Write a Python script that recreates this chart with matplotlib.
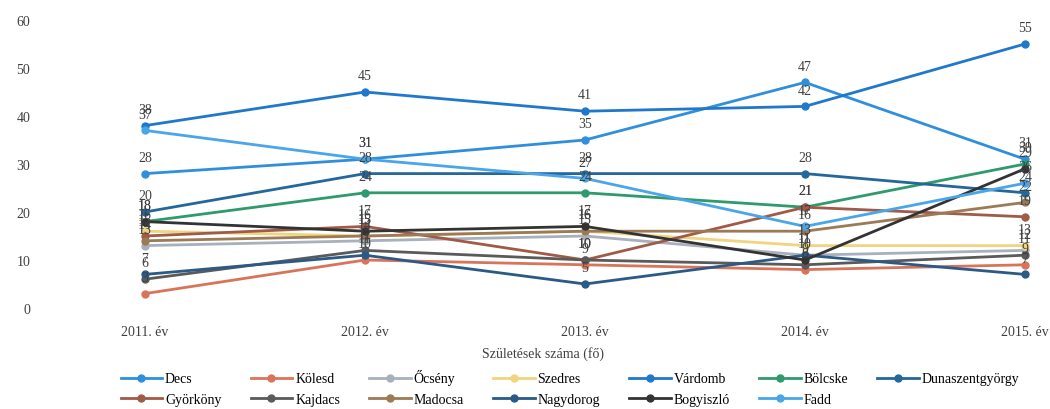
import numpy as np
import matplotlib.pyplot as plt

plt.rcParams['font.family'] = ['Liberation Serif', 'DejaVu Serif']

years = ['2011. év', '2012. év', '2013. év', '2014. év', '2015. év']

decs = [28, 31, 35, 47, 31]
kolesd = [3, 10, 9, 8, 9]
ocseny = [13, 14, 15, 11, 12]
szedres = [16, 15, 16, 13, 13]
vardomb = [38, 45, 41, 42, 55]
bolcske = [18, 24, 24, 21, 30]
dunaszentgyorgy = [20, 28, 28, 28, 24]
gyorkony = [15, 17, 10, 21, 19]
kajdacs = [6, 12, 10, 9, 11]
madocsa = [14, 15, 16, 16, 22]
nagydorog = [7, 11, 5, 11, 7]
bogyiszlo = [18, 16, 17, 10, 29]
fadd = [37, 31, 27, 17, 26]

names = ['Decs', 'Kölesd', 'Őcsény', 'Szedres', 'Várdomb', 'Bölcske', 'Dunaszentgyörgy',
         'Györköny', 'Kajdacs', 'Madocsa', 'Nagydorog', 'Bogyiszló', 'Fadd']
series = [decs, kolesd, ocseny, szedres, vardomb, bolcske, dunaszentgyorgy,
          gyorkony, kajdacs, madocsa, nagydorog, bogyiszlo, fadd]
colors = ['#2f8fdc', '#d9745a', '#a9b0bd', '#f0d480', '#1f78cc', '#2e9a6e', '#24679a',
          '#a05a48', '#5a5a5a', '#9c7a55', '#2b5a86', '#333333', '#4aa6e8']

x = np.arange(len(years))

fig = plt.figure(figsize=(10.5, 4.1), dpi=100)
ax = fig.add_axes([35/1050, 101/410, 1015/1050, 288/410])

for name, vals, c in zip(names, series, colors):
    ax.plot(x, vals, color=c, lw=2, marker='o', ms=5, label=name)
    for xi, v in zip(x, vals):
        ax.annotate(str(v), (xi, v), xytext=(0, 7), textcoords='offset points',
                    ha='center', va='bottom', fontsize=10, color='#404040')

ax.set_xlim(-0.5, 4.114)
ax.set_ylim(0, 60)
ax.set_yticks([0, 10, 20, 30, 40, 50, 60])
ax.set_xticks(x, years)
for s in ax.spines.values():
    s.set_visible(False)
ax.tick_params(length=0, labelsize=10, colors='#404040')
ax.tick_params(axis='x', pad=12)
ax.set_xlabel('Születések száma (fő)', fontsize=10, color='#404040', labelpad=6)

# legend fills by column, so interleave to get two rows in the original order
handles, labels = ax.get_legend_handles_labels()
order = []
for i in range(7):
    order.append(i)
    if i + 7 < len(handles):
        order.append(i + 7)
fig.legend([handles[i] for i in order], [labels[i] for i in order], ncol=7,
           loc='upper left', bbox_to_anchor=(108/1050, 52/410),
           frameon=False, fontsize=10, handlelength=3, columnspacing=2.1,
           handletextpad=0.2, labelspacing=0.55)

fig.savefig('out.png')
